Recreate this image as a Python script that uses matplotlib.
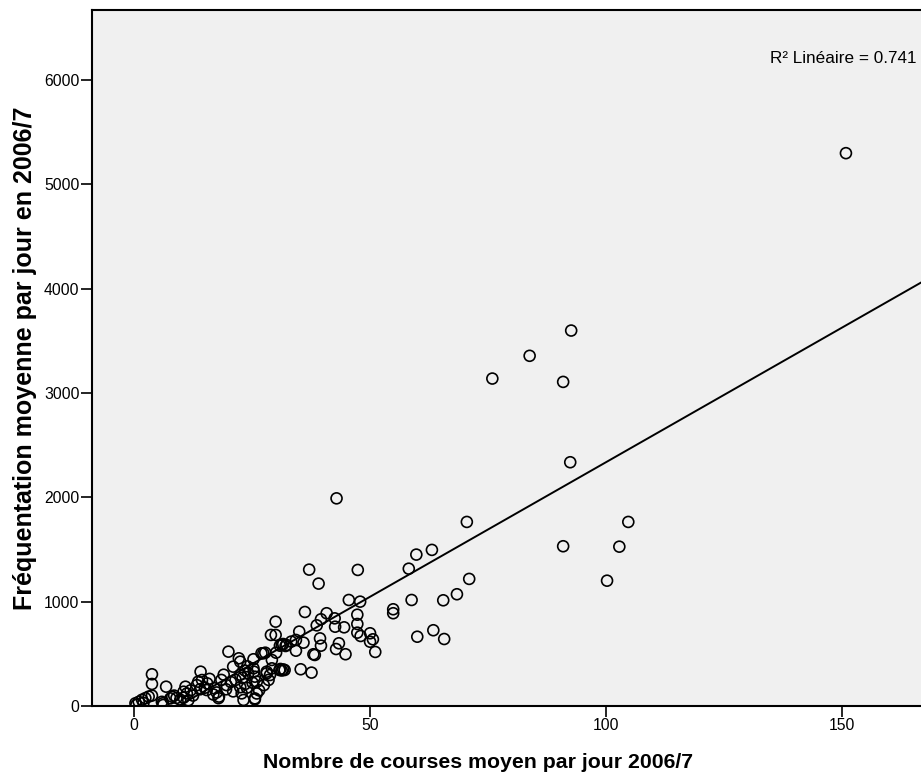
#!/usr/bin/env python3
"""
Scatter of average daily ridership vs. average daily trips per station
(2006/7), with the linear fit line and its R^2.
"""

import matplotlib
matplotlib.use("Agg")
import matplotlib.pyplot as plt
import numpy as np

# Nombre de courses moyen par jour 2006/7
courses = [
    150.8,
    92.6, 83.8, 75.9, 90.9, 92.4,
    42.9,
    70.5, 104.7, 59.8, 63.1, 58.2, 90.9, 102.8, 71.0, 100.2, 58.8, 65.5, 68.4,
    60.0, 63.4, 65.7,
    37.1, 39.1, 47.4,
    45.5, 47.9, 54.9, 54.9, 36.2, 40.8, 39.6, 42.5, 38.7, 42.6, 44.5, 47.3,
    47.3, 47.3, 48.0, 50.0, 50.6, 50.0, 51.1,
    30.0, 29.0, 30.0, 35.0, 34.3, 31.6, 30.9, 35.9, 34.3, 39.4, 39.6, 42.8,
    43.4, 44.8, 38.0, 38.3, 35.3, 37.6,
    27.4, 27.8, 30.1,
    30.8, 31.0, 31.3, 31.6, 31.9,
    29.2, 28.1, 25.3, 25.4, 26.0, 25.6, 25.1,
    33.3, 32.1,
    20.0, 22.2, 22.5, 21.0,
    3.8, 3.8, 6.8,
    14.1, 13.6, 14.4, 15.5,
    10.9, 10.5, 8.1, 7.7, 6.1,
    0.3, 1.0, 1.7, 2.4, 3.1, 3.8, 0.5, 2.0,
    5.9, 6.2,
    8.5, 9.0, 9.8, 10.5, 11.2, 12.0, 11.5, 12.5,
    17.0, 17.5, 16.8, 18.0, 17.9,
    19.6, 20.5, 21.5, 22.5, 23.5, 23.9, 21.0, 19.5,
    22.8, 23.2, 25.6,
    13.3, 14.0, 15.0, 15.4,
    24.2, 25.3, 25.6,
    28.8, 28.1, 27.0,
    22.5, 23.5, 24.0, 23.0,
    29.2,
    32.3, 31.3,
    26.5, 27.5, 28.5, 26.0,
    18.5, 19.0, 16.0,
]

# Fréquentation moyenne par jour en 2006/7
frequentation = [
    5298,
    3598, 3356, 3138, 3106, 2336,
    1990,
    1764, 1764, 1451, 1496, 1316, 1531, 1527, 1218, 1201, 1016, 1013, 1071,
    664, 726, 642,
    1307, 1173, 1304,
    1016, 1000, 927, 889, 901, 889, 831, 840, 773, 760, 754, 875,
    786, 703, 671, 697, 639, 616, 518,
    808, 681, 681, 713, 633, 594, 578, 607, 530, 648, 578, 546,
    601, 496, 496, 489, 352, 320,
    505, 511, 511,
    345, 355, 340, 350, 345,
    361, 313, 448, 329, 233, 64, 223,
    617, 575,
    521, 457, 425, 377,
    304, 211, 185,
    329, 233, 249, 217,
    185, 137, 89, 73, 26,
    26, 40, 60, 75, 90, 100, 10, 30,
    40, 10,
    100, 77, 60, 80, 120, 150, 55, 100,
    170, 130, 110, 90, 75,
    200, 230, 250, 180, 210, 175, 140, 160,
    121, 58, 73,
    200, 160, 175, 153,
    313, 361, 281,
    297, 329, 505,
    300, 340, 380, 270,
    441,
    585, 585,
    150, 200, 250, 120,
    250, 300, 260,
]

# Linear fit (Fréquentation = a * courses + b)
fit_slope = 25.8
fit_intercept = -243.0
r2_label = "R² Linéaire = 0.741"

x_ticks = [0, 50, 100, 150]
y_ticks = [0, 1000, 2000, 3000, 4000, 5000, 6000]


def main():
    plt.rcParams['font.family'] = ['Liberation Sans', 'DejaVu Sans']

    fig = plt.figure(figsize=(9.21, 7.78), dpi=100)
    ax = fig.add_axes([92 / 921, 72 / 778, 829 / 921, 696 / 778])
    ax.set_facecolor('#f0f0f0')

    xlim = (-8.9, 166.7)
    ax.set_xlim(*xlim)
    ax.set_ylim(0, 6670)

    ax.scatter(courses, frequentation, s=62, facecolors='none',
               edgecolors='black', linewidths=1.2, zorder=3)

    xs = np.array(xlim)
    ax.plot(xs, fit_slope * xs + fit_intercept, color='black', lw=1.4, zorder=2)

    ax.text(0.995, 0.931, r2_label, transform=ax.transAxes, ha='right',
            va='center', fontsize=12.3)

    ax.set_xticks(x_ticks)
    ax.set_yticks(y_ticks)
    ax.tick_params(direction='out', length=8, width=1.2, color='black',
                   labelsize=11.3, pad=1)

    for side in ['left', 'bottom', 'top']:
        ax.spines[side].set_linewidth(1.5)
        ax.spines[side].set_color('black')
    ax.spines['right'].set_visible(False)

    ax.set_xlabel('Nombre de courses moyen par jour 2006/7', fontsize=15.3,
                  fontweight='bold')
    ax.xaxis.set_label_coords((478 - 92) / 829, -0.068)
    ax.set_ylabel('Fréquentation moyenne par jour en 2006/7', fontsize=18,
                  fontweight='bold')
    ax.yaxis.set_label_coords(-0.066, 0.5)

    fig.savefig('out.png', dpi=100)


if __name__ == "__main__":
    main()
